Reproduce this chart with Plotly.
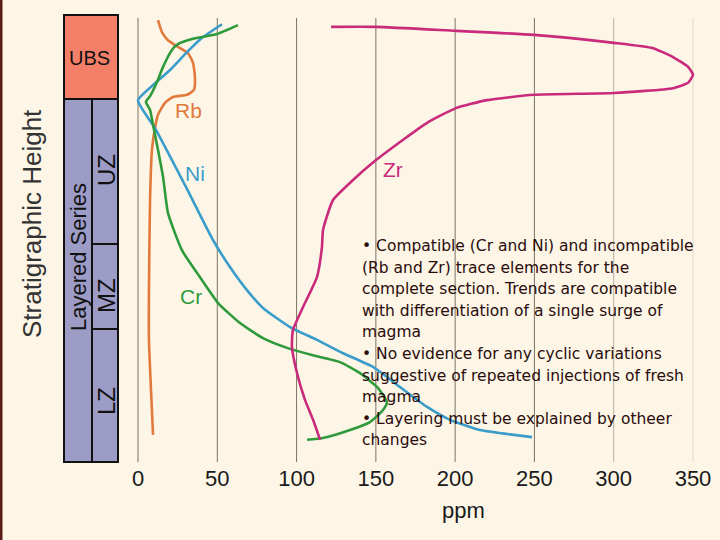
import plotly.graph_objects as go

# ---------------- data (ppm vs. stratigraphic height, 0-100) ----------------
rb_ppm = [12.6, 15.1, 18.9, 25.2, 31.5, 34.7, 35.9, 35.3, 30.9, 22.1, 17.0, 12.6, 10.7, 8.8, 7.6, 6.9, 6.9, 8.2, 9.5]
rb_h = [99.5, 96.8, 95.0, 93.5, 92.1, 89.9, 86.7, 83.8, 82.7, 82.2, 80.9, 78.2, 75.2, 70.3, 59.0, 38.7, 27.5, 16.2, 6.1]

ni_ppm = [53.0, 41.0, 30.9, 20.2, 9.5, 0.0, 10.7, 30.3, 47.3, 58.0, 68.7, 78.8, 95.9, 112.9, 129.3, 148.2, 165.2, 182.3, 196.8, 215.7, 232.7, 248.5]
ni_h = [98.6, 95.7, 92.3, 88.3, 84.9, 81.5, 75.2, 61.9, 50.0, 43.9, 38.7, 34.7, 30.4, 27.5, 24.5, 21.4, 16.9, 12.4, 9.5, 7.2, 6.3, 5.6]

cr_ppm = [63.1, 49.8, 34.7, 25.2, 21.4, 15.8, 12.0, 7.6, 5.0, 7.6, 9.5, 12.6, 15.8, 18.9, 27.7, 37.2, 50.5, 64.3, 78.8, 94.0, 109.7, 127.4, 140.0, 150.7, 157.0, 154.5, 146.3, 133.7, 116.7, 106.6]
cr_h = [98.4, 96.4, 95.3, 94.1, 92.8, 89.0, 85.6, 82.4, 81.1, 79.3, 75.9, 70.3, 64.2, 56.1, 47.7, 42.6, 35.8, 31.3, 27.9, 25.7, 24.1, 22.5, 20.0, 16.9, 13.5, 11.7, 9.0, 7.2, 5.4, 5.0]

zr_ppm = [121.7, 150.1, 200.5, 249.7, 300.2, 324.8, 337.4, 346.9, 350.0, 346.9, 337.4, 300.2, 249.7, 220.1, 200.5, 182.3, 169.6, 150.1, 135.6, 123.0, 116.7, 116.0, 112.9, 104.1, 97.7, 97.1, 100.3, 105.3, 110.4, 114.8]
zr_h = [98.0, 98.0, 97.1, 96.2, 94.4, 93.2, 91.2, 89.0, 87.2, 85.4, 84.2, 83.1, 82.7, 81.5, 79.7, 76.4, 73.2, 68.0, 63.5, 59.0, 52.3, 48.4, 41.7, 34.9, 29.7, 25.9, 20.0, 14.0, 9.5, 5.0]

x_ticks = [0, 50, 100, 150, 200, 250, 300, 350]
x_tick_labels = ["0", "50", "100", "150", "200", "250", "300", "350"]

column_units = ["UBS", "UZ", "MZ", "LZ"]
notes = [
    "• Compatible (Cr and Ni) and incompatible",
    "(Rb and Zr) trace elements for the",
    "complete section. Trends are compatible",
    "with differentiation of a single surge of",
    "magma",
    "• No evidence for any cyclic variations",
    "suggestive of repeated injections of fresh",
    "magma",
    "• Layering must be explained by otheer",
    "changes",
]

# ---------------- styling / geometry helpers ----------------
W, H = 720, 540
PLOT_BOTTOM = 462
BG = "#fdf6e6"
SANS = "Liberation Sans, Arial, sans-serif"


def px(x):
    return x / W


def py(y):
    return (PLOT_BOTTOM - y) / PLOT_BOTTOM


fig = go.Figure()

series = [
    ("Rb", rb_ppm, rb_h, "#e2793d"),
    ("Ni", ni_ppm, ni_h, "#3a9ccb"),
    ("Cr", cr_ppm, cr_h, "#2f9a3c"),
    ("Zr", zr_ppm, zr_h, "#c92a7c"),
]
for name, xs, ys, col in series:
    fig.add_trace(go.Scatter(x=xs, y=ys, mode="lines", name=name,
                             line=dict(color=col, width=2.6, shape="spline", smoothing=0.5),
                             hoverinfo="skip"))

shapes = []
# vertical grid lines
grid_cols = ["#7b7363", "#7b7363", "#7b7363", "#7b7363", "#7b7363", "#7b7363", "#b9af9d", "#e3dac8"]
for v, gc in zip(x_ticks, grid_cols):
    shapes.append(dict(type="line", xref="x", yref="paper", x0=v, x1=v, y0=py(462), y1=py(18),
                       line=dict(color=gc, width=1), layer="below"))

# stratigraphic column
shapes += [
    dict(type="rect", xref="paper", yref="paper", x0=px(64), x1=px(118), y0=py(99), y1=py(15),
         fillcolor="#f47f69", line=dict(color="#111", width=2)),
    dict(type="rect", xref="paper", yref="paper", x0=px(64), x1=px(92), y0=py(462), y1=py(99),
         fillcolor="#9c9cc6", line=dict(color="#111", width=2)),
    dict(type="rect", xref="paper", yref="paper", x0=px(92), x1=px(118), y0=py(244), y1=py(99),
         fillcolor="#9c9cc6", line=dict(color="#111", width=2)),
    dict(type="rect", xref="paper", yref="paper", x0=px(92), x1=px(118), y0=py(329), y1=py(244),
         fillcolor="#9c9cc6", line=dict(color="#111", width=2)),
    dict(type="rect", xref="paper", yref="paper", x0=px(92), x1=px(118), y0=py(462), y1=py(329),
         fillcolor="#9c9cc6", line=dict(color="#111", width=2)),
    # left border strip
    dict(type="rect", xref="paper", yref="paper", x0=0, x1=px(2.5), y0=py(540), y1=py(0),
         fillcolor="#5b1b15", line=dict(width=0)),
]

ann = []


def label(text, x, y, size, color, angle=0, family=SANS):
    ann.append(dict(text=text, x=px(x), y=py(y), xref="paper", yref="paper", showarrow=False,
                    xanchor="center", yanchor="middle", textangle=angle,
                    font=dict(family=family, size=size, color=color)))


# column texts
label(column_units[0], 89, 58, 20, "#111")
for t, yc in zip(column_units[1:], [170, 296, 401]):
    label(t, 106, yc, 24, "#111", angle=-90)
label("Layered Series", 78, 257, 22, "#111", angle=-90)
label("Stratigraphic Height", 32, 224, 26, "#333", angle=-90)

# curve labels
for (name, xs, ys, col), (lx, ly) in zip(series, [(188, 110), (195, 173), (191, 296), (393, 169)]):
    label(name, lx, ly, 21, col)

label("ppm", 463, 511, 22, "#1a1a1a")

# notes
for i, line in enumerate(notes):
    ann.append(dict(text=line, x=px(360), y=py(246 + 21.6 * i), xref="paper", yref="paper",
                    xanchor="left", yanchor="middle", showarrow=False,
                    font=dict(family="DejaVu Sans, Verdana, sans-serif", size=15.5, color="#2a0c0c")))

fig.update_layout(
    width=W, height=H,
    margin=dict(l=0, r=0, t=0, b=H - PLOT_BOTTOM),
    paper_bgcolor=BG, plot_bgcolor=BG,
    showlegend=False,
    shapes=shapes, annotations=ann,
    xaxis=dict(range=[-138 / 1.5857, (W - 138) / 1.5857], showgrid=False, zeroline=False,
               showline=False, ticks="", tickvals=x_ticks, ticktext=x_tick_labels,
               tickfont=dict(family=SANS, size=22, color="#1a1a1a"), ticklabelstandoff=1),
    yaxis=dict(range=[0, PLOT_BOTTOM / 4.44], visible=False),
)

fig.write_html("out.html")
